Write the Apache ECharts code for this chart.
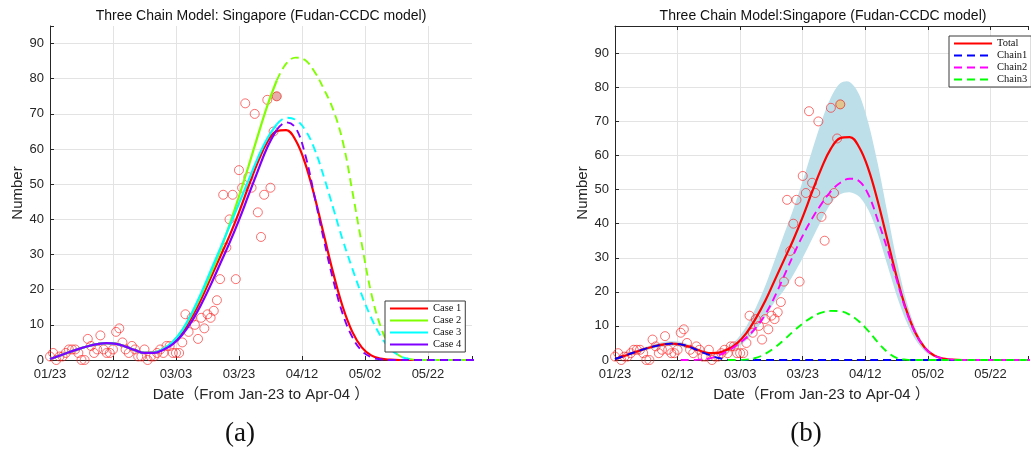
<!DOCTYPE html>
<html>
<head>
<meta charset="utf-8">
<script src="https://cdn.jsdelivr.net/npm/echarts@6/dist/echarts.min.js"></script>
<style>
  html, body { margin: 0; padding: 0; background: #fff; }
  #chart { width: 1031px; height: 454px; }
</style>
</head>
<body>
<div id="chart"></div>
<script>
// Day 0 = 23 Jan 2020; axis ticks every 20 days
const tickLabels = ['01/23', '02/12', '03/03', '03/23', '04/12', '05/02', '05/22'];

// Reported daily new cases, Singapore, 23 Jan .. 4 Apr (day 0 .. 72)
const obsCases = [
  1, 2, 0, 1, 1, 2, 3, 3, 3,
  2, 0, 0, 6, 4, 2, 3, 7, 3, 2, 2, 3, 8, 9, 5, 3, 2, 4, 3, 1, 1, 3, 0, 1, 1, 2, 3, 2, 4,
  4, 2, 2, 2, 5, 13, 8, 12, 10, 6, 12, 9, 13, 12, 14, 17, 23, 47, 32, 40, 47, 23, 54, 49, 73, 52, 49, 70, 42, 35, 47,
  74, 49, 65, 75
];
// last fitted day (observations end here); later model output is a projection
const fitEnd = 72;

// Model output sampled every 3 days
const modelDays = [0, 3, 6, 9, 12, 15, 18, 21, 24, 27, 30, 33, 36, 39, 42, 45, 48, 51, 54, 57,
  60, 63, 66, 69, 72, 75, 78, 81, 84, 87, 90, 93, 96, 99, 102, 105, 108, 111, 114, 117,
  120, 123, 126, 129, 132, 135];

const case1 = [0.3, 1.2, 2.2, 3.1, 3.9, 4.5, 4.8, 4.6, 3.8, 2.8, 2.0, 2.1, 3.1, 4.9, 7.9, 12.2, 17.3, 23.3, 29.3, 35.3,
  42.0, 49.3, 56.3, 62.0, 65.1, 65.4, 62.5, 56.0, 46.5, 35.5, 24.5, 15.0, 8.0, 3.6, 1.3, 0.4, 0.1, 0, 0, 0,
  0, 0, 0, 0, 0, 0];
const case2 = [0.3, 1.2, 2.2, 3.1, 3.9, 4.5, 4.8, 4.6, 3.8, 2.8, 2.0, 2.1, 3.2, 5.2, 8.5, 13.0, 18.5, 24.5, 31.0, 38.5,
  46.5, 55.0, 63.8, 72.3, 79.5, 84.3, 86.0, 85.3, 82.0, 77.0, 71.0, 62.0, 48.0, 33.0, 19.0, 9.5, 3.8, 1.2, 0.3, 0,
  0, 0, 0, 0, 0, 0];
const case3 = [0.3, 1.2, 2.2, 3.1, 3.9, 4.5, 4.8, 4.6, 3.8, 2.8, 2.0, 2.1, 3.2, 5.2, 8.5, 13.3, 19.0, 25.3, 31.6, 38.0,
  44.5, 51.0, 57.5, 63.0, 67.0, 68.9, 68.3, 65.5, 60.0, 52.0, 43.0, 34.0, 26.0, 18.5, 12.0, 6.8, 3.2, 1.2, 0.3, 0,
  0, 0, 0, 0, 0, 0];
const case4 = [0.3, 1.2, 2.2, 3.1, 3.9, 4.5, 4.8, 4.6, 3.8, 2.8, 2.0, 2.0, 2.9, 4.5, 7.2, 11.0, 15.8, 21.3, 27.3, 33.3,
  39.8, 46.8, 53.8, 60.5, 65.5, 67.6, 66.0, 58.5, 46.5, 34.0, 22.5, 13.0, 6.5, 2.6, 0.8, 0.2, 0, 0, 0, 0,
  0, 0, 0, 0, 0, 0];

// Three-chain decomposition (null = chain not yet active)
const chain1 = [0.3, 1.2, 2.2, 3.1, 3.9, 4.5, 4.8, 4.6, 3.8, 2.6, 1.5, 0.6, 0.1, 0, 0, 0, 0, 0, 0, 0,
  0, 0, 0, 0, 0, 0, 0, 0, 0, 0, 0, 0, 0, 0, 0, 0, 0, 0, 0, 0,
  0, 0, 0, 0, 0, 0];
const chain2 = [null, null, null, null, null, null, null, 0, 0, 0.1, 0.4, 1.3, 2.6, 4.4, 6.6, 9.4, 13.3, 18.5, 24.6, 30.8,
  36.5, 41.5, 45.8, 49.5, 52.0, 53.2, 52.5, 48.5, 41.0, 32.7, 23.6, 14.6, 7.9, 3.6, 1.3, 0.4, 0.1, 0, 0, 0,
  0, 0, 0, 0, 0, 0];
const chain3 = [null, null, null, null, null, null, null, null, null, null, null, null, 0, 0, 0.1, 0.6, 1.8, 3.6, 5.9, 8.4,
  10.7, 12.6, 13.9, 14.4, 14.3, 13.3, 11.3, 8.5, 5.2, 2.4, 0.6, 0.1, 0, 0, 0, 0, 0, 0, 0, 0,
  0, 0, 0, 0, 0, 0];
// Confidence band of the total
const bandUpper = [0.5, 1.5, 2.6, 3.6, 4.5, 5.2, 5.5, 5.3, 4.4, 3.3, 2.4, 2.5, 3.8, 6.1, 9.9, 15.3, 21.7, 29.2, 36.8, 44.3,
  52.5, 61.5, 70.0, 77.0, 81.2, 81.6, 78.0, 69.5, 57.5, 43.5, 29.5, 17.8, 9.4, 4.2, 1.6, 0.5, 0.1, 0, 0, 0,
  0, 0, 0, 0, 0, 0];
const bandLower = [0.1, 0.9, 1.8, 2.6, 3.3, 3.8, 4.1, 3.9, 3.2, 2.3, 1.6, 1.6, 2.4, 3.7, 5.8, 8.8, 12.6, 17.0, 20.5, 25.0,
  30.0, 35.5, 41.0, 46.0, 48.6, 49.2, 48.0, 44.0, 37.0, 28.0, 19.0, 11.5, 6.0, 2.6, 0.9, 0.3, 0, 0, 0, 0,
  0, 0, 0, 0, 0, 0];

const sans = '"Liberation Sans", Arial, Helvetica, "Noto Sans CJK SC", sans-serif';
const serif = '"Liberation Serif", "Times New Roman", "DejaVu Serif", serif';
const ink = '#262626';
const gridGray = '#e3e3e3';

const pairs = (vals, from = -Infinity, to = Infinity) =>
  modelDays.map((d, i) => [d, vals[i]])
    .filter(p => p[1] != null && p[0] >= from && p[0] <= to);

const obsPairs = (highlight) => obsCases.map((v, d) => {
  if (d === obsCases.length - 1) {
    return { value: [d, v], itemStyle: { color: highlight, borderColor: 'rgba(230,40,30,0.9)' } };
  }
  return [d, v];
});

function xAxisCfg(gridIndex, max) {
  return {
    type: 'value', gridIndex, min: 0, max, interval: 20,
    axisLine: { show: true, onZero: false, lineStyle: { color: ink, width: 1 } },
    axisTick: { show: true, inside: true, length: 4, lineStyle: { color: ink } },
    axisLabel: {
      color: ink, fontSize: 13, fontFamily: sans, margin: 8,
      formatter: v => (v % 20 === 0 ? (tickLabels[v / 20] || '') : '')
    },
    splitLine: {
      show: true,
      lineStyle: { color: [gridGray, gridGray, gridGray, gridGray, gridGray, gridGray, gridGray, 'transparent'] }
    },
    name: 'Date（From Jan-23 to Apr-04 ）', nameLocation: 'middle', nameGap: 27,
    nameTextStyle: { fontSize: 15, color: ink, fontFamily: sans }
  };
}

function yAxisCfg(gridIndex, max) {
  const lines = [];
  for (let i = 0; i < 10; i++) lines.push(gridGray);
  lines.push('transparent');
  return {
    type: 'value', gridIndex, min: 0, max, interval: 10,
    axisLine: { show: true, onZero: false, lineStyle: { color: ink, width: 1 } },
    axisTick: { show: true, inside: true, length: 4, lineStyle: { color: ink } },
    axisLabel: {
      color: ink, fontSize: 13, fontFamily: sans, margin: 6,
      formatter: v => (v % 10 === 0 ? String(v) : '')
    },
    splitLine: { show: true, lineStyle: { color: lines } },
    name: 'Number', nameLocation: 'middle', nameGap: 25,
    nameTextStyle: { fontSize: 15, color: ink, fontFamily: sans }
  };
}

function curve(name, data, color, axis, dashed) {
  return {
    name, type: 'line', data, xAxisIndex: axis, yAxisIndex: axis,
    smooth: 0.4, symbol: 'none', silent: true,
    lineStyle: { color, width: dashed ? 1.9 : 2.2, type: dashed ? [8, 5] : 'solid' },
    itemStyle: { color }
  };
}

function scatter(axis, highlight) {
  return {
    name: 'Reported', type: 'scatter', xAxisIndex: axis, yAxisIndex: axis,
    data: obsPairs(highlight), symbol: 'circle', symbolSize: 9, silent: true,
    itemStyle: { color: 'rgba(255,255,255,0)', borderColor: 'rgba(255,30,30,0.8)', borderWidth: 1 }
  };
}

// Shaded confidence band drawn as one smooth polygon between the two bounds
const bandSeries = {
  name: 'band', type: 'custom', xAxisIndex: 1, yAxisIndex: 1, silent: true,
  data: [[0, 0]],
  renderItem: (params, api) => {
    const upper = [], lower = [];
    modelDays.forEach((d, i) => {
      if (d <= 111) upper.push(api.coord([d, bandUpper[i]]));
      if (d <= 108) lower.push(api.coord([d, bandLower[i]]));
    });
    return {
      type: 'polygon',
      shape: { points: upper.concat(lower.reverse()), smooth: 0.3 },
      style: { fill: '#bcdfea' }
    };
  }
};

const legendBase = {
  orient: 'vertical', selectedMode: false,
  backgroundColor: '#fff', borderColor: '#3a3a3a', borderWidth: 1,
  itemWidth: 38, itemHeight: 8, itemGap: 1,
  itemStyle: { opacity: 0 },
  textStyle: { fontFamily: serif, fontSize: 10.5, color: '#111', lineHeight: 10.5 }
};

const series = [
  scatter(0, 'rgba(200,70,60,0.55)'),
  curve('Case 1', pairs(case1), '#ff0000', 0, false),
  curve('Case 2', pairs(case2, -Infinity, fitEnd), '#80ff00', 0, false),
  curve('Case 2', pairs(case2, fitEnd), '#80ff00', 0, true),
  curve('Case 3', pairs(case3, -Infinity, fitEnd), '#00ffff', 0, false),
  curve('Case 3', pairs(case3, fitEnd), '#00ffff', 0, true),
  curve('Case 4', pairs(case4, -Infinity, fitEnd), '#8000ff', 0, false),
  curve('Case 4', pairs(case4, fitEnd), '#8000ff', 0, true),

  bandSeries,
  scatter(1, 'rgba(240,185,100,0.85)'),
  curve('Total', pairs(case1), '#ff0000', 1, false),
  curve('Chain1', pairs(chain1), '#0000ff', 1, true),
  curve('Chain2', pairs(chain2), '#ff00ff', 1, true),
  curve('Chain3', pairs(chain3), '#00ff00', 1, true)
];

const option = {
  animation: false,
  backgroundColor: '#fff',
  grid: [
    { left: 50, top: 26, width: 422, height: 334 },
    { left: 615, top: 26, width: 416, height: 334 }
  ],
  xAxis: [
    xAxisCfg(0, 134),
    xAxisCfg(1, 132),
    {
      type: 'value', gridIndex: 1, position: 'top', min: 0, max: 132, interval: 20,
      axisLine: { show: true, onZero: false, lineStyle: { color: ink, width: 1 } },
      axisTick: { show: true, inside: true, length: 4, lineStyle: { color: ink } },
      axisLabel: { show: false }, splitLine: { show: false }
    }
  ],
  yAxis: [yAxisCfg(0, 95), yAxisCfg(1, 98)],
  legend: [
    Object.assign({}, legendBase, {
      data: ['Case 1', 'Case 2', 'Case 3', 'Case 4'],
      left: 385, top: 301, padding: [2, 4, 2, 4]
    }),
    Object.assign({}, legendBase, {
      data: ['Total', 'Chain1', 'Chain2', 'Chain3'],
      left: 949, top: 36, padding: [2, 4, 2, 4]
    })
  ],
  graphic: [
    { type: 'text', x: 261, y: 16, silent: true,
      style: { text: 'Three Chain Model: Singapore (Fudan-CCDC model)', align: 'center', verticalAlign: 'middle',
        fontSize: 14, fontFamily: sans, fill: '#111' } },
    { type: 'text', x: 823, y: 16, silent: true,
      style: { text: 'Three Chain Model:Singapore (Fudan-CCDC model)', align: 'center', verticalAlign: 'middle',
        fontSize: 14, fontFamily: sans, fill: '#111' } },
    { type: 'text', x: 240, y: 434, silent: true,
      style: { text: '(a)', align: 'center', verticalAlign: 'middle', fontSize: 27, fontFamily: serif, fill: '#111' } },
    { type: 'text', x: 806, y: 434, silent: true,
      style: { text: '(b)', align: 'center', verticalAlign: 'middle', fontSize: 27, fontFamily: serif, fill: '#111' } }
  ],
  series
};

const chart = echarts.init(document.getElementById('chart'), null, { renderer: 'canvas' });
chart.setOption(option);
</script>
</body>
</html>
